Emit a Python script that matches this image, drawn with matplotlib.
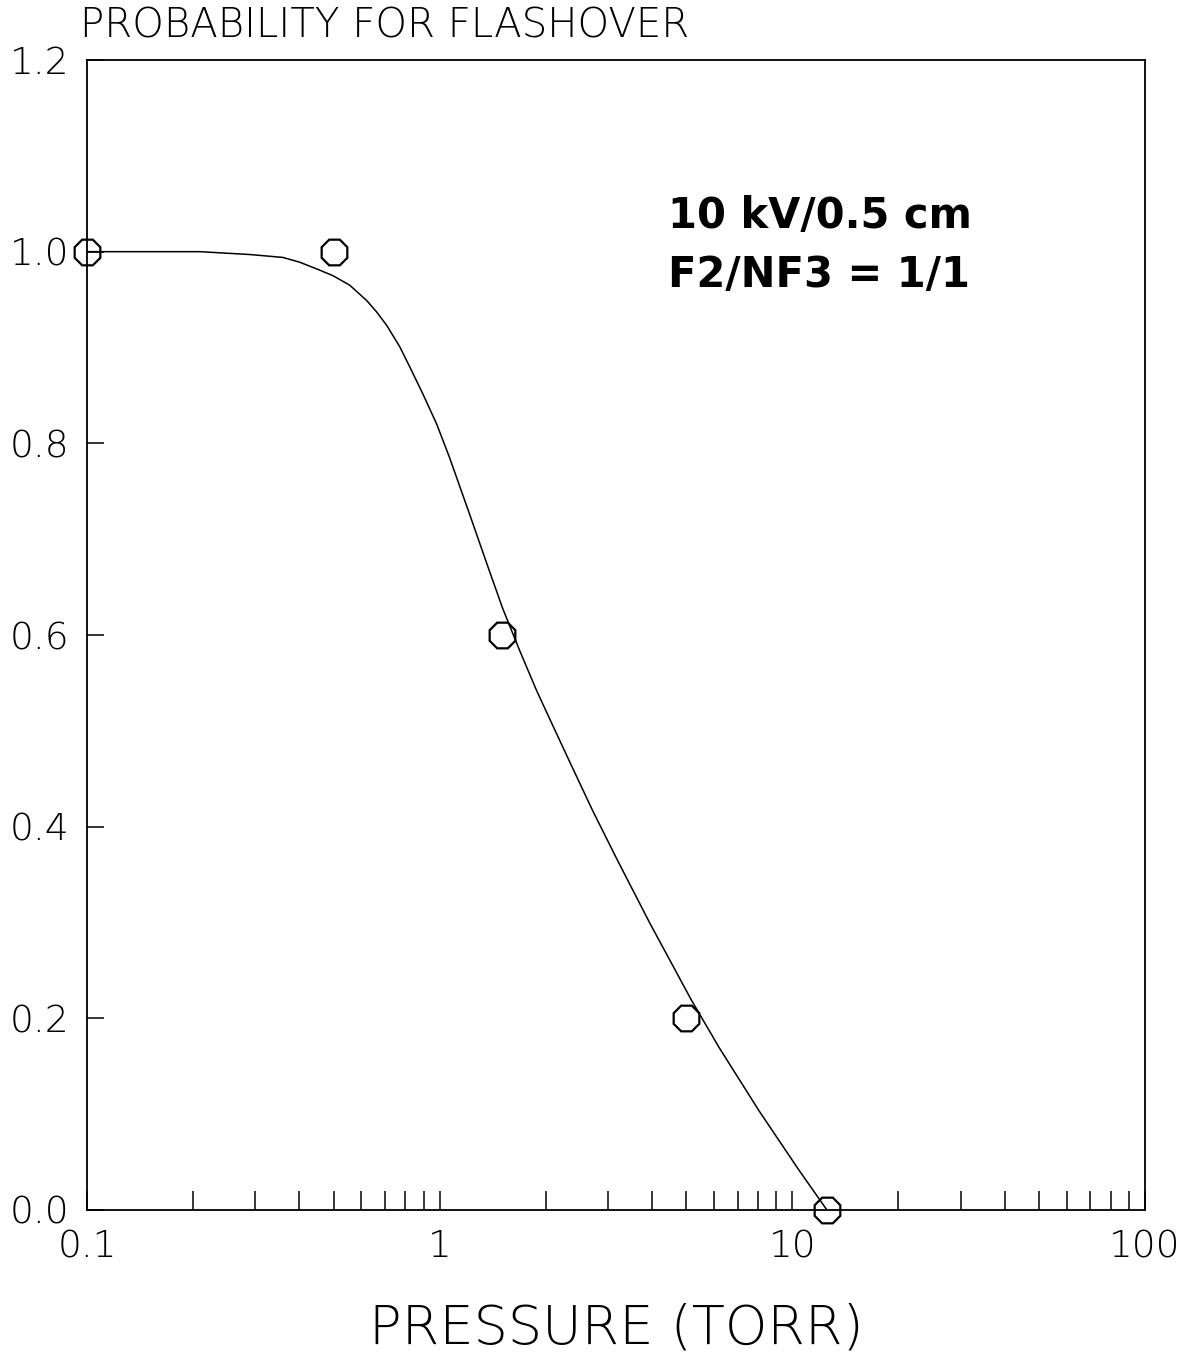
import matplotlib
matplotlib.use("Agg")
import matplotlib.pyplot as plt
from matplotlib.ticker import LogLocator, FixedLocator, NullFormatter, FixedFormatter

# Measured data points
pressure = [0.1, 0.5, 1.5, 5.0, 12.5]
probability = [1.0, 1.0, 0.6, 0.2, 0.0]

# Hand-drawn fitted curve
curve_x = [0.1, 0.209, 0.290, 0.359, 0.401, 0.448, 0.498, 0.556, 0.621, 0.663,
           0.708, 0.770, 0.822, 0.895, 0.981, 1.067, 1.216, 1.359, 1.508,
           1.685, 1.883, 2.090, 2.335, 2.713, 3.172, 3.935, 5.175, 6.212,
           8.063, 10.47, 12.48]
curve_y = [1.0, 1.0, 0.997, 0.994, 0.989, 0.982, 0.975, 0.965, 0.949, 0.937,
           0.923, 0.901, 0.880, 0.852, 0.820, 0.785, 0.726, 0.675, 0.628,
           0.584, 0.542, 0.506, 0.468, 0.417, 0.367, 0.300, 0.219, 0.169,
           0.103, 0.041, 0.001]

x_ticks = [0.1, 1, 10, 100]
x_ticklabels = ["0.1", "1", "10", "100"]
y_ticks = [0.0, 0.2, 0.4, 0.6, 0.8, 1.0, 1.2]
y_ticklabels = ["0.0", "0.2", "0.4", "0.6", "0.8", "1.0", "1.2"]

title = "PROBABILITY FOR FLASHOVER"
xlabel = "PRESSURE (TORR)"
note1 = "10 kV/0.5 cm"
note2 = "F2/NF3 = 1/1"

plt.rcParams["font.family"] = ["DejaVu Sans"]
plt.rcParams["font.weight"] = 200

fig = plt.figure(figsize=(11.95, 13.53), dpi=100)
ax = fig.add_axes([87/1195, 1 - 1210/1353, (1145-87)/1195, (1210-60)/1353])

ax.plot(curve_x, curve_y, color="black", lw=1.1, solid_joinstyle="round")
ax.plot(pressure, probability, linestyle="none", marker=(8, 0, 22.5),
        markersize=20, markerfacecolor="none", markeredgecolor="black",
        markeredgewidth=1.6, clip_on=False)

ax.set_xscale("log")
ax.set_xlim(0.1, 100)
ax.set_ylim(0, 1.2)

ax.xaxis.set_major_locator(FixedLocator(x_ticks))
ax.xaxis.set_major_formatter(FixedFormatter(x_ticklabels))
ax.xaxis.set_minor_locator(LogLocator(base=10, subs=range(2, 10)))
ax.xaxis.set_minor_formatter(NullFormatter())
ax.yaxis.set_major_locator(FixedLocator(y_ticks))
ax.yaxis.set_major_formatter(FixedFormatter(y_ticklabels))

ax.tick_params(axis="x", which="both", direction="in", length=14, width=1.1,
               top=False, pad=14, labelsize=27)
ax.tick_params(axis="y", which="both", direction="in", length=12.5, width=1.1,
               right=False, pad=13, labelsize=27)

for sp in ax.spines.values():
    sp.set_linewidth(1.3)

fig.text(80/1195, 1 - 38/1353, title, fontsize=29, ha="left", va="baseline",
         weight=200)
fig.text(616/1195, 1 - 1343/1353, xlabel, fontsize=39, ha="center",
         va="baseline", weight=200)

ax.text((668-87)/1058, (1210-228)/1150, note1, transform=ax.transAxes,
        fontsize=30, fontweight="bold", ha="left", va="baseline")
ax.text((668-87)/1058, (1210-287)/1150, note2, transform=ax.transAxes,
        fontsize=30, fontweight="bold", ha="left", va="baseline")

fig.savefig("out.png", dpi=100, facecolor="white")
